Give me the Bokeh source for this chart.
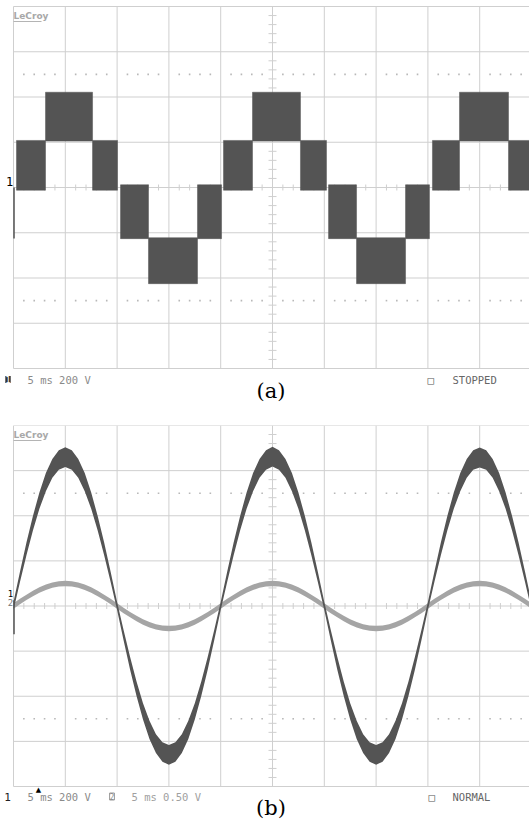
import numpy as np
from bokeh.plotting import figure
from bokeh.layouts import column
from bokeh.models import Range1d, Label
from bokeh.embed import file_html
from bokeh.resources import INLINE

# ---------------- data ----------------
# panel (a): multilevel staircase, PWM bands (time ms, volts)
a_start = [0.29, 3.09, 7.63, 10.33, 13.03, 17.76, 20.27, 23.07, 27.70, 30.41, 33.11, 37.84, 40.44, 43.05, 47.78]
a_end   = [3.09, 7.63, 10.04, 13.03, 17.76, 20.08, 23.07, 27.70, 30.21, 33.11, 37.84, 40.15, 43.05, 47.78, 50.00]
a_low   = [-12, 205, -12, -226, -425, -226, -12, 205, -12, -226, -425, -226, -12, 205, -12]
a_high  = [208, 421, 208, 12, -222, 12, 208, 421, 208, 12, -222, 12, 208, 421, 208]
a_spike = [0, -225]

# panel (b): ch1 voltage (V) with ripple half-width, ch2 current probe (V)
b_t = [i * 0.625 for i in range(81)]
b_v = [0, 129, 253, 367, 467, 549, 610, 647, 660, 647, 610, 549, 467, 367, 253, 129,
       0, -129, -253, -367, -467, -549, -610, -647, -660, -647, -610, -549, -467, -367, -253, -129,
       0, 129, 253, 367, 467, 549, 610, 647, 662, 647, 610, 549, 467, 367, 253, 129,
       0, -129, -253, -367, -467, -549, -610, -647, -660, -647, -610, -549, -467, -367, -253, -129,
       0, 129, 253, 367, 467, 549, 610, 647, 658, 647, 610, 549, 467, 367, 253, 129, 0]
b_v_hw = [18, 23, 28, 32, 36, 40, 42, 43, 44, 43, 42, 40, 36, 32, 28, 23,
          18, 23, 28, 32, 36, 40, 42, 43, 44, 43, 42, 40, 36, 32, 28, 23,
          18, 23, 28, 32, 36, 40, 42, 43, 44, 43, 42, 40, 36, 32, 28, 23,
          18, 23, 28, 32, 36, 40, 42, 43, 44, 43, 42, 40, 36, 32, 28, 23,
          18, 23, 28, 32, 36, 40, 42, 43, 44, 43, 42, 40, 36, 32, 28, 23, 18]
b_i = [0, 0.049, 0.096, 0.139, 0.177, 0.208, 0.231, 0.245, 0.25, 0.245, 0.231, 0.208, 0.177, 0.139, 0.096, 0.049,
       0, -0.049, -0.096, -0.139, -0.177, -0.208, -0.231, -0.245, -0.25, -0.245, -0.231, -0.208, -0.177, -0.139, -0.096, -0.049,
       0, 0.049, 0.096, 0.139, 0.177, 0.208, 0.231, 0.245, 0.25, 0.245, 0.231, 0.208, 0.177, 0.139, 0.096, 0.049,
       0, -0.049, -0.096, -0.139, -0.177, -0.208, -0.231, -0.245, -0.25, -0.245, -0.231, -0.208, -0.177, -0.139, -0.096, -0.049,
       0, 0.049, 0.096, 0.139, 0.177, 0.208, 0.231, 0.245, 0.25, 0.245, 0.231, 0.208, 0.177, 0.139, 0.096, 0.049, 0]
b_i_hw = 0.03
b_spike = [25, -125]

x_ticks = [0, 5, 10, 15, 20, 25, 30, 35, 40, 45]
y_ticks = [-800, -600, -400, -200, 0, 200, 400, 600, 800]

DARK = "#545454"
TRACE2 = "#a5a5a5"
GRID_C = "#cfcfcf"
TXT = "#8a8a8a"
MONO = "DejaVu Sans Mono"

W = 529
PX_MS = 10.36       # pixels per ms
LEFT = 13           # page x of t = 0


def X(px):
    return (px - LEFT) / PX_MS


class Panel:
    def __init__(self, fig_top, fig_h, grid_top, grid_bot, ch2_range=None):
        self.top = fig_top
        self.vpp = 1600.0 / (grid_bot - grid_top)       # volts per pixel
        self.cy = (grid_top + grid_bot) / 2.0
        y_hi = self.Y(fig_top)
        y_lo = self.Y(fig_top + fig_h)
        p = figure(width=W, height=fig_h, x_range=Range1d(X(0), X(W)), y_range=Range1d(y_lo, y_hi),
                   output_backend="svg", toolbar_location=None,
                   x_axis_location=None, y_axis_location=None,
                   min_border_left=0, min_border_right=0, min_border_top=0, min_border_bottom=0)
        p.outline_line_color = None
        p.background_fill_color = "white"
        p.border_fill_color = "white"
        p.xgrid.visible = False
        p.ygrid.visible = False
        if ch2_range is not None:
            # ch2 range sharing the same screen mapping: +-4 div = +-2 V
            k = 2.0 / 800.0
            p.extra_y_ranges = {"ch2": Range1d(y_lo * k, y_hi * k)}
        self.p = p
        # graticule
        p.segment(x0=x_ticks, y0=[-800] * len(x_ticks), x1=x_ticks, y1=[800] * len(x_ticks),
                  line_color=GRID_C, line_width=1, level="underlay")
        p.segment(x0=[0] * len(y_ticks), y0=y_ticks, x1=[X(W + 5)] * len(y_ticks), y1=y_ticks,
                  line_color=GRID_C, line_width=1, level="underlay")
        # centre-line minor ticks (1/5 div)
        tx = [float(k) for k in np.arange(0, 50.01, 1.0) if k % 5 != 0]
        dy = 3.0 * self.vpp
        p.segment(x0=tx, y0=[-dy] * len(tx), x1=tx, y1=[dy] * len(tx),
                  line_color=GRID_C, line_width=1, level="underlay")
        ty = [float(k) for k in np.arange(-800, 801, 40) if k % 200 != 0]
        dx = 4.0 / PX_MS
        p.segment(x0=[25 - dx] * len(ty), y0=ty, x1=[25 + dx] * len(ty), y1=ty,
                  line_color=GRID_C, line_width=1, level="underlay")
        # dotted rows at +-2.5 div
        for yy in (500, -500):
            p.scatter(x=tx, y=[yy] * len(tx), marker="square", size=1.6, fill_color="#b8b8b8",
                      line_color=None, level="underlay")
        # LeCroy logo
        self.label(13, grid_top + 4, "LeCroy", font="DejaVu Sans", size="9px", color="#a8a8a8",
                   style="bold", baseline="top")
        p.segment(x0=[X(13)], y0=[self.Y(grid_top + 15)], x1=[X(41)], y1=[self.Y(grid_top + 15)],
                  line_color="#b4b4b4", line_width=1)

    def Y(self, py):
        return (self.cy - py) * self.vpp

    def label(self, px, py, text, font=MONO, size="10.5px", color=TXT, align="left",
              baseline="middle", style="normal", **kw):
        self.p.add_layout(Label(x=X(px), y=self.Y(py), text=text, text_font=font, text_font_size=size,
                                text_color=color, text_align=align, text_baseline=baseline,
                                text_font_style=style, **kw))


# ---------------- panel (a) ----------------
A = Panel(0, 425, 6, 368)
pa = A.p
pa.quad(left=a_start, right=a_end, bottom=a_low, top=a_high, fill_color=DARK, line_color=DARK, line_width=0.5)
pa.line(x=[0.05, 0.05], y=a_spike, line_color=DARK, line_width=1.5)
A.label(9, 181, "1", size="12px", color="black", align="center")
A.label(7.5, 379, "1", size="9px", color="white", align="center", background_fill_color="#333333")
A.label(27, 379.5, "5 ms 200 V")
A.label(427, 379, "\u25a1", color="#555555")
A.label(452, 379.5, "STOPPED", color="#666666")
A.label(270.5, 390.5, "(a)", font="DejaVu Serif", size="21px", color="black", align="center")

# ---------------- panel (b) ----------------
B = Panel(425, 398, 425, 786, ch2_range=True)
pb = B.p
vc = np.array(b_v, dtype=float)
vh = np.array(b_v_hw, dtype=float)
ic = np.array(b_i, dtype=float)
pb.varea(x=b_t, y1=ic - b_i_hw, y2=ic + b_i_hw, fill_color=TRACE2, y_range_name="ch2")
pb.varea(x=b_t, y1=vc - vh, y2=vc + vh, fill_color=DARK)
pb.line(x=[0.05, 0.05], y=b_spike, line_color=DARK, line_width=1.5)
B.label(10, 593, "1", size="9px", color="black", align="center")
B.label(10, 602, "2", size="9px", color="#777777", align="center")
B.label(7, 796, "1", size="11px", color="#222222", align="center")
B.label(38, 789.5, "\u25b2", font="DejaVu Sans", size="7px", color="black", align="center")
B.label(27, 796, "5 ms 200 V")
B.label(111.5, 796, "2", size="8px", color="#888888", align="center", border_line_color="#999999")
B.label(131, 796, "5 ms 0.50 V", color="#a0a0a0")
B.label(428, 796, "\u25a1", color="#555555")
B.label(452, 796, "NORMAL", color="#666666")
B.label(270.5, 807, "(b)", font="DejaVu Serif", size="21px", color="black", align="center")

layout = column(pa, pb, spacing=0)
open("out.html", "w").write(file_html(layout, INLINE))
